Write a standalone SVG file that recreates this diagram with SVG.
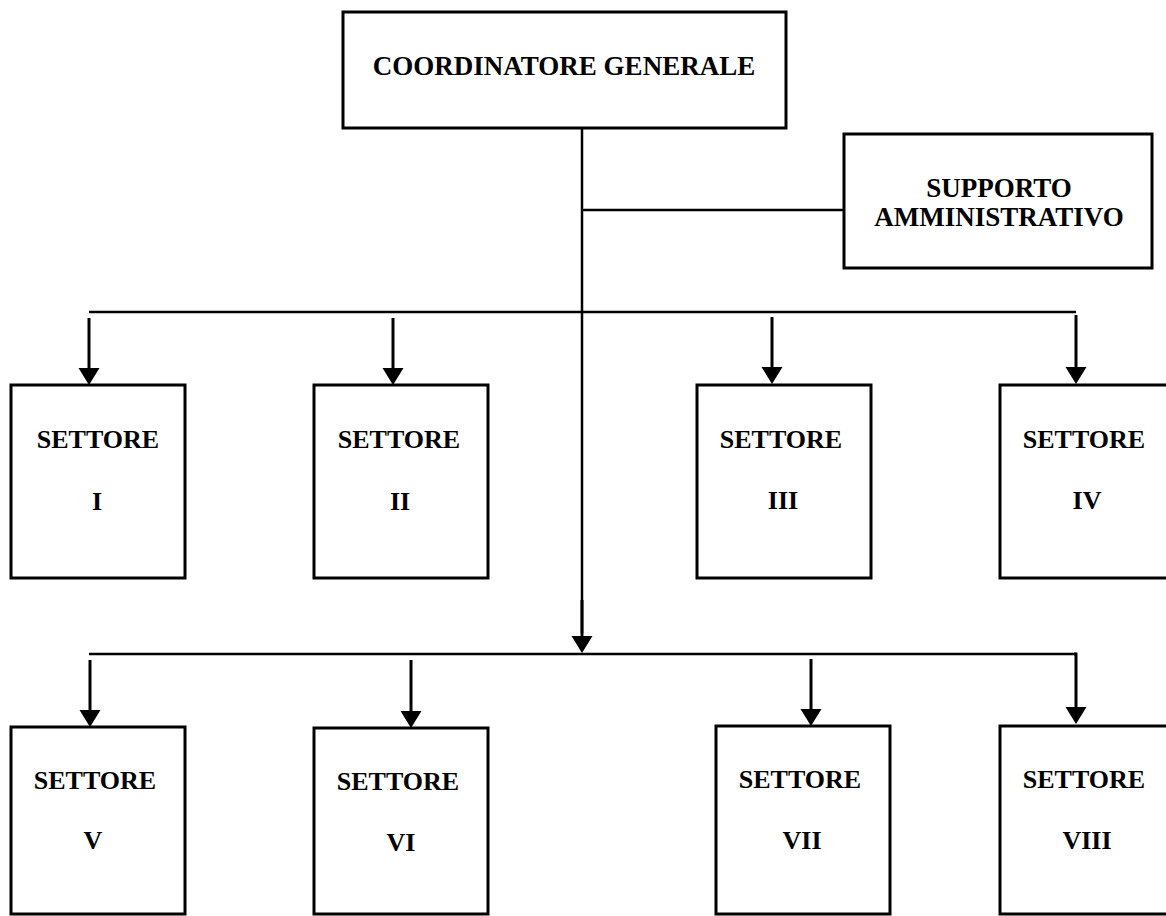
<svg xmlns="http://www.w3.org/2000/svg" width="1166" height="916" viewBox="0 0 1166 916">
<style>
.box{fill:#fff;stroke:#000;stroke-width:3}
.lbl{font-family:"Liberation Serif","Times New Roman",serif;font-weight:bold;font-size:26px;fill:#000;text-anchor:middle}
.big{font-size:27px}
.con{fill:none;stroke:#000;stroke-width:2.5}
.arr{fill:none;stroke:#000;stroke-width:3;marker-end:url(#ah)}
</style>
<defs>
<marker id="ah" markerUnits="userSpaceOnUse" viewBox="0 -11 18 22" refX="7" refY="0" markerWidth="18" markerHeight="22" orient="auto">
<path d="M0,-10.5 L17,0 L0,10.5 z" fill="#000"/>
</marker>
</defs>
<rect width="1166" height="916" fill="#fff"/>
<g id="connectors">
<line class="con" x1="582" y1="128" x2="582" y2="633"/>
<line class="arr" x1="582" y1="600" x2="582" y2="643"/>
<line class="con" x1="582" y1="210" x2="844" y2="210"/>
<line class="con" x1="89" y1="312" x2="1076" y2="312"/>
<line class="arr" x1="89" y1="318" x2="89" y2="375"/>
<line class="arr" x1="393" y1="318" x2="393" y2="375"/>
<line class="arr" x1="772" y1="317" x2="772" y2="374"/>
<line class="arr" x1="1076" y1="315" x2="1076" y2="374"/>
<line class="con" x1="89" y1="654" x2="1076" y2="654"/>
<line class="arr" x1="90" y1="660" x2="90" y2="717"/>
<line class="arr" x1="411" y1="660" x2="411" y2="718"/>
<line class="arr" x1="811" y1="659" x2="811" y2="716"/>
<path class="arr" d="M1074,654 L1076,654 L1076,714"/>
</g>
<g id="coordinatore">
<rect class="box" x="343" y="12" width="443" height="116"/>
<text class="lbl big" x="564" y="75">COORDINATORE GENERALE</text>
</g>
<g id="supporto">
<rect class="box" x="844" y="134" width="308" height="134"/>
<text class="lbl big" x="999" y="197">SUPPORTO</text>
<text class="lbl big" x="999" y="226">AMMINISTRATIVO</text>
</g>
<g id="settore1">
<rect class="box" x="11" y="385" width="174" height="193"/>
<text class="lbl" x="98" y="448">SETTORE</text>
<text class="lbl" x="97" y="510">I</text>
</g>
<g id="settore2">
<rect class="box" x="314" y="385" width="174" height="193"/>
<text class="lbl" x="399" y="448">SETTORE</text>
<text class="lbl" x="400" y="510">II</text>
</g>
<g id="settore3">
<rect class="box" x="697" y="385" width="174" height="193"/>
<text class="lbl" x="781" y="448">SETTORE</text>
<text class="lbl" x="783" y="509">III</text>
</g>
<g id="settore4">
<rect class="box" x="1000" y="385" width="176" height="193"/>
<text class="lbl" x="1084" y="448">SETTORE</text>
<text class="lbl" x="1087" y="509">IV</text>
</g>
<g id="settore5">
<rect class="box" x="11" y="727" width="174" height="187"/>
<text class="lbl" x="95" y="789">SETTORE</text>
<text class="lbl" x="93" y="849">V</text>
</g>
<g id="settore6">
<rect class="box" x="314" y="728" width="174" height="186"/>
<text class="lbl" x="398" y="790">SETTORE</text>
<text class="lbl" x="401" y="851">VI</text>
</g>
<g id="settore7">
<rect class="box" x="716" y="726" width="174" height="188"/>
<text class="lbl" x="800" y="788">SETTORE</text>
<text class="lbl" x="802" y="849">VII</text>
</g>
<g id="settore8">
<rect class="box" x="1000" y="726" width="176" height="188"/>
<text class="lbl" x="1084" y="788">SETTORE</text>
<text class="lbl" x="1087" y="849">VIII</text>
</g>
</svg>
